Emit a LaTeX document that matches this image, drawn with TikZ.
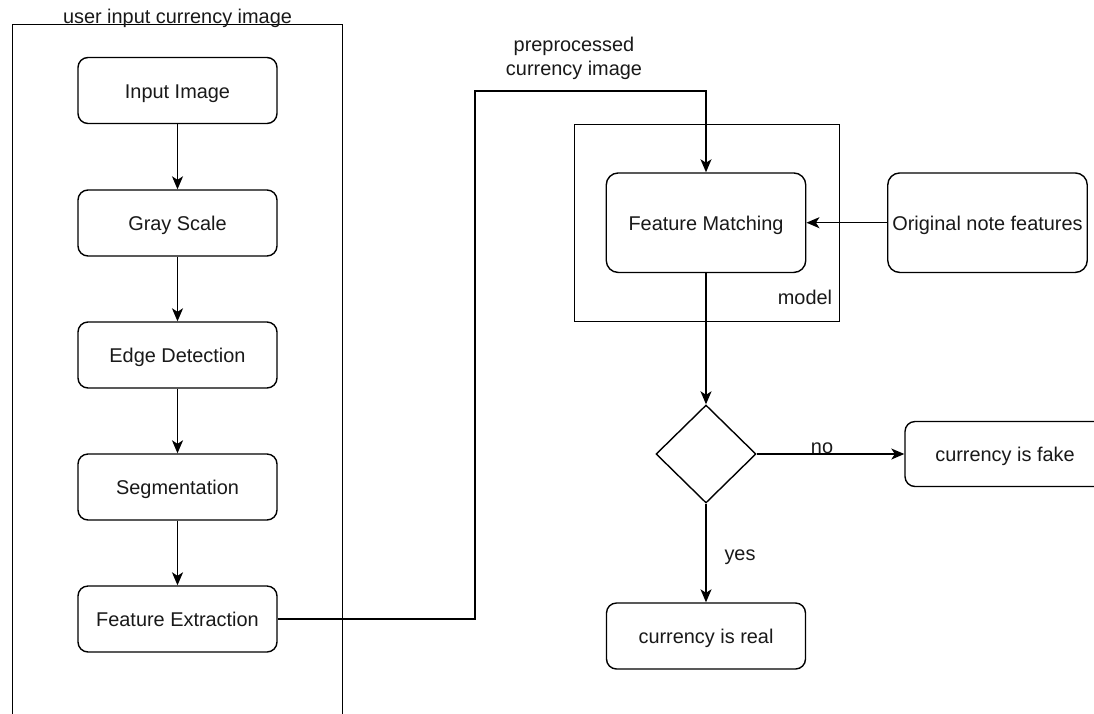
\documentclass[tikz,border=0pt]{standalone}
\usepackage{fontspec}
\setmainfont{Liberation Sans}
\usetikzlibrary{shapes.geometric,arrows.meta}
\begin{document}
\begin{tikzpicture}[x=1pt,y=-1pt,
  every node/.style={font=\fontsize{19.9}{24}\selectfont, text=black!90, text height=18pt, text depth=3pt},
  stepbox/.style={draw, rounded corners=10pt, line width=1.4pt, minimum width=199pt, minimum height=66pt, inner sep=0pt},
  bigbox/.style={draw, rounded corners=12pt, line width=1.4pt, minimum width=199.5pt, minimum height=99.5pt, inner sep=0pt},
  frame/.style={draw, line width=1.4pt, inner sep=0pt, anchor=north west},
  arr/.style={line width=1.4pt, -{Stealth[length=13pt,width=11pt,inset=3.5pt]}},
  lbl/.style={inner sep=0pt, align=center}
]
\useasboundingbox (0,0) rectangle (1094,713);
\clip (0,0) rectangle (1094,713);
\fill[white] (0,0) rectangle (1094,713);

% group container
\node[frame, minimum width=330pt, minimum height=720pt] (grp) at (12,24) {};
\node[lbl] (title) at (177.5,16) {user input currency image};

% model container
\node[frame, minimum width=265pt, minimum height=197pt] (model) at (574,124) {};
\node[lbl] (modellbl) at (805,297) {model};

% steps
\node[stepbox] (inp) at (177.5,90.5) {Input Image};
\node[stepbox] (gray) at (177.5,223) {Gray Scale};
\node[stepbox] (edge) at (177.5,355) {Edge Detection};
\node[stepbox] (seg) at (177.5,487) {Segmentation};
\node[stepbox] (fext) at (177.5,619) {Feature Extraction};

\node[bigbox] (fm) at (706,222.7) {Feature Matching};
\node[bigbox] (orig) at (987.5,222.7) {Original note features};

\node[draw, diamond, line width=1.4pt, minimum width=100pt, minimum height=98pt, inner sep=0pt, aspect=1] (dia) at (706,454) {};

\node[stepbox, minimum width=200pt, minimum height=65pt] (fake) at (1005,454) {currency is fake};
\node[stepbox] (real) at (706,636) {currency is real};

% connectors
\draw[arr] (inp) -- (gray);
\draw[arr] (gray) -- (edge);
\draw[arr] (edge) -- (seg);
\draw[arr] (seg) -- (fext);

\coordinate (c1) at (475,91);
\draw[arr] (fext.east) -| (c1) -| (fm.north);
\node[lbl, text height=, text depth=] (pre) at (574,58) {preprocessed\\currency image};

\draw[arr] (orig.west) -- (fm.east);
\draw[arr] (fm.south) -- (dia.north);
\draw[arr] (dia.east) -- (fake.west);
\node[lbl] (no) at (822,446) {no};
\draw[arr] (dia.south) -- (real.north);
\node[lbl] (yes) at (740,553) {yes};
\end{tikzpicture}
\end{document}
